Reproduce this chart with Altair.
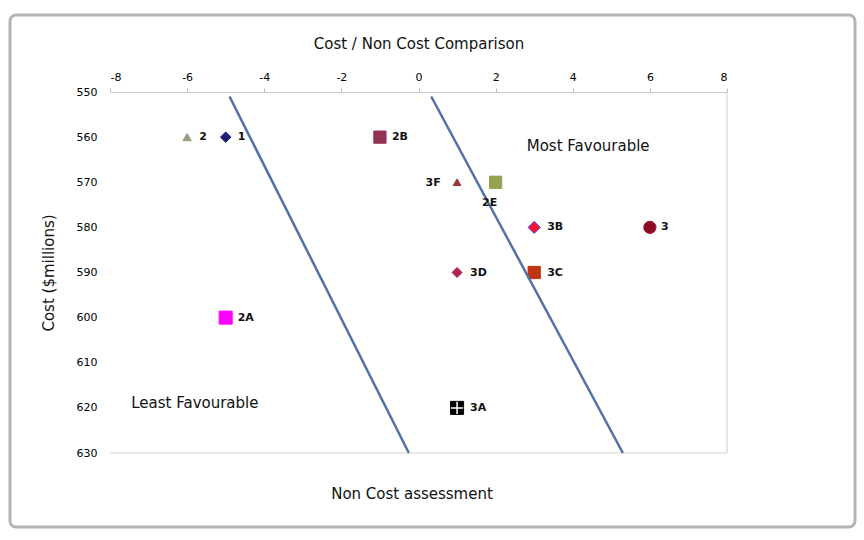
import altair as alt
import pandas as pd

# Options plotted: non-cost score vs. cost
labels = ["2", "1", "2B", "3F", "2E", "3B", "3", "3D", "3C", "2A", "3A"]
non_cost = [-6, -5, -1, 1, 2, 3, 6, 1, 3, -5, 1]
cost = [560, 560, 560, 570, 570, 580, 580, 590, 590, 600, 620]
shapes = ["triangle-up", "diamond", "square", "triangle-up", "square", "diamond",
          "circle", "diamond", "square", "square", "square"]
fills = ["#9c9c82", "#1f1f78", "#933452", "#94383a", "#98a052", "#ff1030",
         "#8c0a22", "#b02050", "#c03412", "#ff00ff", "#000000"]
strokes = ["#9c9c82", "#1f1f78", "#933452", "#94383a", "#98a052", "#4a4aff",
           "#b01030", "#b02050", "#c03412", "#ff00ff", "#000000"]
sizes = [70, 110, 150, 60, 150, 150, 150, 100, 150, 170, 170]
label_dx = [12, 12, 12, -24, -6, 13, 11, 13, 13, 12, 13]
label_dy = [0, 0, 0, 1, 21, 0, 0, 0, 0, 0, 0]

# Favourability boundary lines
line_id = ["a", "a", "b", "b"]
line_x = [-4.9, -0.25, 0.33, 5.3]
line_y = [551, 630, 551, 630]

# Region annotations
note_text = ["Most Favourable", "Least Favourable"]
note_x = [4.4, -5.8]
note_y = [562, 619]

points = pd.DataFrame({
    "label": labels, "non_cost": non_cost, "cost": cost, "shape": shapes,
    "fill": fills, "stroke": strokes, "size": sizes,
    "dx": label_dx, "dy": label_dy,
})
lines = pd.DataFrame({"id": line_id, "x": line_x, "y": line_y})
notes = pd.DataFrame({"text": note_text, "x": note_x, "y": note_y})

FONT = "DejaVu Sans"

x_scale = alt.Scale(domain=[-8, 8], nice=False)
y_scale = alt.Scale(domain=[550, 630], reverse=True, nice=False)

x_enc = alt.X(
    "non_cost:Q", scale=x_scale,
    axis=alt.Axis(
        orient="top", values=list(range(-8, 9, 2)), title="Cost / Non Cost Comparison",
        labelExpr="'' + datum.value",
        grid=False, domainColor="#cccccc", tickColor="#bbbbbb", tickSize=4,
        labelPadding=6, titlePadding=20, labelFontSize=11, titleFontSize=15,
        titleFontWeight="normal", labelColor="#000000", titleColor="#111111",
    ),
)
y_enc = alt.Y(
    "cost:Q", scale=y_scale,
    axis=alt.Axis(
        values=list(range(550, 631, 10)), title="Cost ($millions)", grid=False,
        domain=False, ticks=False, labelPadding=13, titlePadding=20,
        labelFontSize=11, titleFontSize=15, titleFontWeight="normal",
        labelColor="#000000", titleColor="#111111",
    ),
)

base = alt.Chart(points)
single = alt.Chart(notes.head(1))

# Outer chart frame
frame = single.mark_rect(
    fill=None, stroke="#b4b4b4", strokeWidth=3, cornerRadius=6, clip=False
).encode(
    x=alt.value(-100), x2=alt.value(745), y=alt.value(-77), y2=alt.value(435)
)

# Plot-area borders (right and bottom)
right_edge = single.mark_rule(color="#d4d4d4", strokeWidth=1.2).encode(
    x=alt.datum(8, scale=x_scale)
)
bottom_edge = single.mark_rule(color="#d4d4d4", strokeWidth=1.2).encode(
    y=alt.datum(630, scale=y_scale)
)

# Lower axis title
bottom_title = single.mark_text(
    font=FONT, fontSize=15, color="#111111", align="center", baseline="middle"
).encode(x=alt.value(302), y=alt.value(402), text=alt.value("Non Cost assessment"))

boundary = alt.Chart(lines).mark_line(color="#5371a9", strokeWidth=2.5).encode(
    x=alt.X("x:Q", scale=x_scale), y=alt.Y("y:Q", scale=y_scale), detail="id:N"
)

markers = base.mark_point(filled=True, opacity=1, strokeWidth=1).encode(
    x=x_enc, y=y_enc,
    shape=alt.Shape("shape:N", scale=None),
    fill=alt.Fill("fill:N", scale=None),
    stroke=alt.Stroke("stroke:N", scale=None),
    size=alt.Size("size:Q", scale=None),
)

# White cross on the 3A marker
cross = base.transform_filter(alt.datum.label == "3A").mark_point(
    shape="M-1,0H1M0,-1V1", stroke="white", strokeWidth=1.5, size=150, opacity=1
).encode(x="non_cost:Q", y="cost:Q")

label_layers = []
for i, lab in enumerate(labels):
    align = "right" if label_dx[i] < 0 and label_dy[i] == 0 else ("center" if label_dy[i] else "left")
    label_layers.append(
        base.transform_filter(alt.datum.label == lab).mark_text(
            align=align, baseline="middle", dx=label_dx[i], dy=label_dy[i],
            font=FONT, fontSize=11, fontWeight="bold", color="#111111",
        ).encode(x="non_cost:Q", y="cost:Q", text="label:N")
    )

note_marks = alt.Chart(notes).mark_text(
    font=FONT, fontSize=15, color="#111111", align="center", baseline="middle"
).encode(x=alt.X("x:Q", scale=x_scale), y=alt.Y("y:Q", scale=y_scale), text="text:N")

chart = alt.layer(
    markers, frame, right_edge, bottom_edge, bottom_title, boundary, cross,
    *label_layers, note_marks
).properties(
    width=617, height=361,
    autosize=alt.AutoSizeParams(type="none"),
    padding={"left": 110, "top": 92, "right": 137, "bottom": 87},
).configure(font=FONT, background="white").configure_view(stroke=None)

chart.save("out.html", embed_options={"renderer": "svg", "actions": False})
